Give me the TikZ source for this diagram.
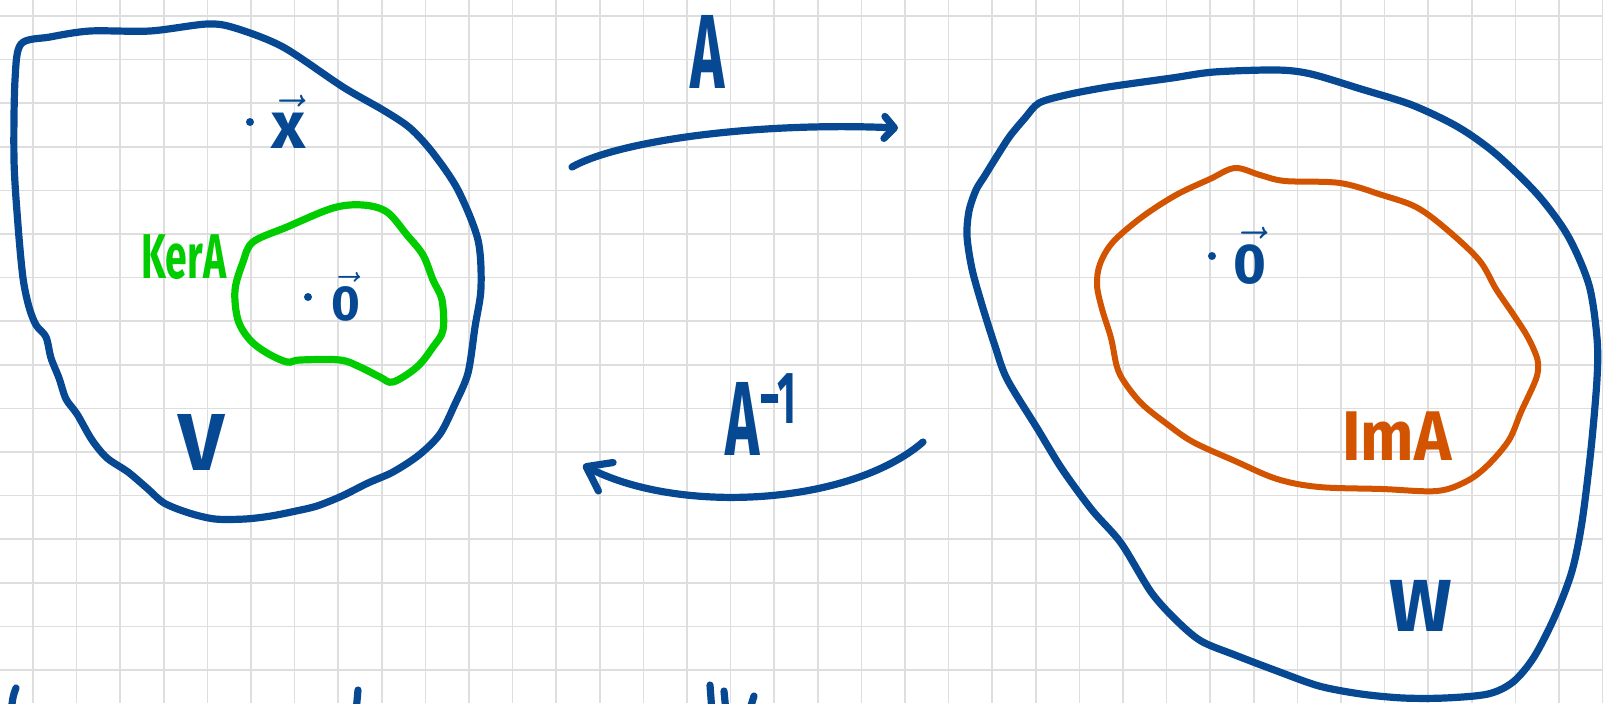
\documentclass[tikz,border=0pt]{standalone}
\usepackage{amsmath}
\usepackage{fontspec}
\setmainfont{Fira Sans}
\usepackage{tikz}
\usetikzlibrary{arrows.meta, positioning}
\definecolor{penblue}{RGB}{6,72,145}
\definecolor{pengreen}{RGB}{0,204,0}
\definecolor{penorange}{RGB}{211,84,0}
\definecolor{gridgray}{RGB}{222,222,222}

\begin{document}
\begin{tikzpicture}[
  x=0.1mm, y=-0.1mm,
  pen/.style={line width=0.72mm, line cap=round, line join=round},
  blob/.style={pen, draw=penblue},
  kerblob/.style={pen, draw=pengreen},
  imblob/.style={pen, draw=penorange, line width=0.6mm},
  gridline/.style={draw=gridgray, line width=0.15mm},
  maparrow/.style={pen, draw=penblue, -{Straight Barb[length=1mm, width=2.2mm, round]}},
  backarrow/.style={pen, draw=penblue, -{Straight Barb[length=2.2mm, width=3.2mm, round]}},
  tag/.style={text=penblue, inner sep=0pt, anchor=base},
  ptdot/.style={circle, fill=penblue, minimum size=0.8mm, inner sep=0pt},
]
\useasboundingbox (0,0) rectangle (1603,703);
\clip (0,0) rectangle (1603,703);
\foreach \gx in {0,...,36}
  \draw[gridline] ({33+43.6*\gx},0) -- ++(0,703);
\foreach \gy in {0,...,15}
  \draw[gridline] (0,{16+43.6*\gy}) -- ++(1603,0);

\draw[blob] plot[smooth cycle, tension=0.5] coordinates {
  (21,44) (50,37) (90,31) (150,31) (207,24) (235,28) (283,47) (343,87)
  (383,110) (410,128) (433,153) (458,190) (478,240) (481,288) (475,327)
  (468,373) (455,404) (440,434) (419,455) (393,472) (368,483) (342,496)
  (317,506) (296,511) (271,516) (245,519) (215,519) (189,513) (164,503)
  (148,489) (128,472) (107,458) (92,440) (77,414) (66,399) (59,378)
  (51,358) (46,337) (36,325) (29,307) (23,278) (18,225) (14,160) (15,80)};
\draw[kerblob] plot[smooth cycle, tension=0.55] coordinates {
  (253,242) (287,227) (333,208) (363,205) (387,212) (407,235) (423,255)
  (433,280) (442,300) (443,330) (433,347) (417,367) (393,382) (380,377)
  (360,367) (340,360) (300,360) (287,362) (267,353) (250,340) (238,320)
  (235,290) (243,262)};
\draw[blob] plot[smooth cycle, tension=0.5] coordinates {
  (1039,103) (1066,95) (1108,87) (1172,78) (1214,72) (1277,70) (1311,74)
  (1361,89) (1412,105) (1458,127) (1496,154) (1538,195) (1568,236)
  (1589,285) (1597,338) (1597,379) (1591,449) (1582,522) (1572,571)
  (1555,616) (1534,657) (1513,682) (1488,694) (1445,698) (1403,698)
  (1361,694) (1319,686) (1277,671) (1235,655) (1201,641) (1176,620)
  (1151,592) (1121,543) (1092,510) (1062,469) (1037,428) (1007,379)
  (995,346) (982,305) (972,269) (967,236) (969,211) (976,190) (984,177)
  (997,156) (1010,136) (1025,118)};
\draw[imblob] plot[smooth cycle, tension=0.55] coordinates {
  (1235,168) (1260,175) (1285,181) (1340,183) (1382,195) (1416,207)
  (1445,228) (1479,260) (1496,289) (1513,314) (1526,334) (1534,350)
  (1538,363) (1536,379) (1521,412) (1509,440) (1488,465) (1467,481)
  (1437,491) (1382,489) (1319,487) (1277,479) (1235,461) (1193,442)
  (1167,424) (1142,404) (1125,383) (1117,367) (1111,338) (1102,309)
  (1097,285) (1100,264) (1113,242) (1142,217) (1176,195) (1210,179)};

\node[ptdot] (xdot) at (250,122) {};
\node[text=penblue, inner sep=0pt, right=1.6mm of xdot,
  font=\fontsize{19}{19}\selectfont\bfseries] (xvec) {$\vec{\text{x}}$};
\node[ptdot] (zerodot) at (308,297) {};
\node[text=penblue, inner sep=0pt, right=1.8mm of zerodot,
  font=\fontsize{14}{14}\selectfont\bfseries] (zerovec) {$\vec{\text{0}}$};
\node[ptdot] (imzerodot) at (1212,256) {};
\node[text=penblue, inner sep=0pt, right=1.6mm of imzerodot,
  font=\fontsize{16}{16}\selectfont\bfseries] (imzerovec) {$\vec{\text{0}}$};

\node[tag, text=pengreen, xscale=0.62, font=\fontsize{18}{18}\selectfont\bfseries]
  (ker) at (184,278) {KerA};
\node[tag, text=penorange, xscale=0.9, font=\fontsize{20}{20}\selectfont\bfseries]
  (im) at (1397,460) {ImA};
\node[tag, font=\fontsize{23}{23}\selectfont\bfseries] (vlab) at (202,470) {V};
\node[tag, font=\fontsize{21}{21}\selectfont\bfseries] (wlab) at (1421,631) {W};
\node[tag, xscale=0.55, font=\fontsize{30}{30}\selectfont\bfseries]
  (amap) at (708,88) {A};
\node[tag, anchor=base west, xscale=0.55, font=\fontsize{30}{30}\selectfont\bfseries]
  (ainv) at (725,455) {A\textsuperscript{−1}};

\coordinate (fwdS) at (572,167);
\coordinate (fwdE) at (898,128);
\coordinate (bwdS) at (923,442);
\coordinate (bwdE) at (583,465);
\draw[maparrow] (fwdS) .. controls (620,140) and (760,122) .. (fwdE);
\draw[backarrow] (bwdS) .. controls (850,505) and (680,515) .. (bwdE);

\draw[pen, draw=penblue] (16,688) .. controls (13,696) .. (11,712);
\draw[pen, draw=penblue] (358,690) -- (356,712);
\draw[pen, draw=penblue] (710,685) -- (712,712);
\draw[pen, draw=penblue] (724,691) -- (726,712);
\draw[pen, draw=penblue] (754,696) -- (749,712);
\end{tikzpicture}
\end{document}
